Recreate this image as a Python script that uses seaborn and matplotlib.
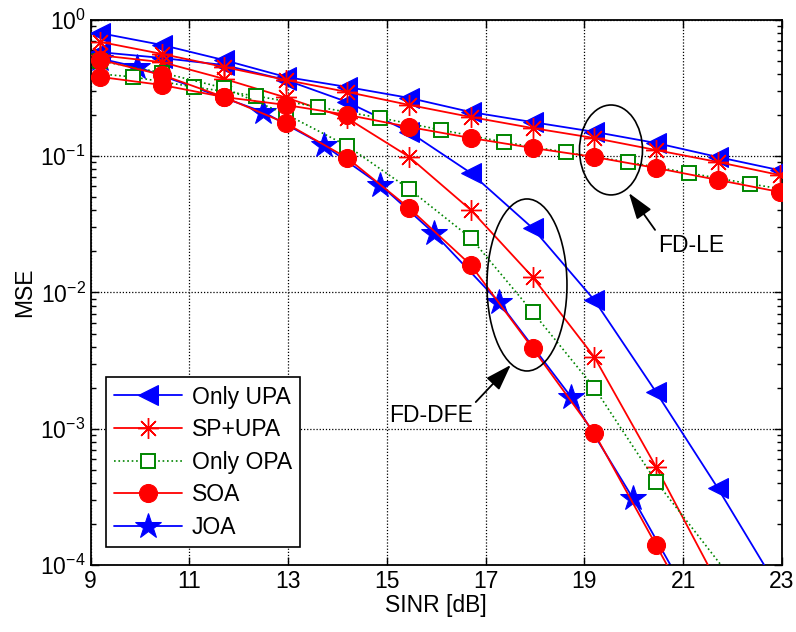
import numpy as np
import pandas as pd
import matplotlib
matplotlib.use('Agg')
import matplotlib.pyplot as plt
import seaborn as sns
from matplotlib.patches import Ellipse

# SINR grid of the markers [dB]
snr = [9.2, 10.45, 11.7, 12.95, 14.2, 15.45, 16.7, 17.95, 19.2, 20.45, 21.7, 22.95]

# FD-LE curves
upa_le = [0.80, 0.655, 0.508, 0.382, 0.322, 0.268, 0.211, 0.178, 0.151, 0.125, 0.0987, 0.079]
sp_le = [0.69, 0.563, 0.452, 0.363, 0.296, 0.238, 0.194, 0.161, 0.136, 0.111, 0.0907, 0.0728]
soa_le = [0.382, 0.333, 0.272, 0.238, 0.201, 0.164, 0.136, 0.115, 0.0987, 0.082, 0.067, 0.0547]
snr_opa_le = [8.6, 9.86, 11.1, 12.35, 13.6, 14.87, 16.1, 17.37, 18.62, 19.88, 21.12, 22.36, 23.6]
opa_le = [0.42, 0.382, 0.322, 0.277, 0.23, 0.191, 0.156, 0.127, 0.107, 0.0907, 0.0753, 0.0626, 0.053]

# FD-DFE curves (last value of each runs below the axis)
upa_dfe = [0.58, 0.526, 0.467, 0.363, 0.25, 0.151, 0.0753, 0.0297, 0.0088, 0.00186, 0.000367, 6.5e-5]
sp_dfe = [0.55, 0.49, 0.37, 0.27, 0.19, 0.099, 0.0403, 0.013, 0.00336, 0.000525, 7.3e-5]
snr_opa_dfe = [9.2, 10.45, 11.7, 12.95, 14.2, 15.45, 16.7, 17.95, 19.2, 20.45, 22.95]
opa_dfe = [0.5, 0.41, 0.317, 0.204, 0.119, 0.0575, 0.0251, 0.0072, 0.002, 0.00041, 2.8e-5]
soa_dfe = [0.509, 0.395, 0.272, 0.175, 0.097, 0.0417, 0.0159, 0.0039, 0.00093, 0.00014, 2.1e-5]
snr_joa = [9.2, 9.95, 12.5, 13.72, 14.87, 15.95, 17.27, 18.73, 19.98, 21.25]
joa = [0.52, 0.452, 0.211, 0.121, 0.0615, 0.0273, 0.0085, 0.00171, 0.00031, 4.7e-5]

labels = ['Only UPA', 'SP+UPA', 'Only OPA', 'SOA', 'JOA']

sns.set_style('ticks')
plt.rcParams['font.family'] = ['Liberation Sans', 'DejaVu Sans']
plt.rcParams['mathtext.default'] = 'regular'
plt.rcParams['text.color'] = 'k'
plt.rcParams['axes.labelcolor'] = 'k'
plt.rcParams['xtick.color'] = 'k'
plt.rcParams['ytick.color'] = 'k'
fs = 16.5

fig = plt.figure(figsize=(7.96, 6.32), dpi=100)
ax = fig.add_axes([0.1137, 0.106, 0.8687, 0.8624])

blue = (0, 0, 1)
red = (1, 0, 0)
green = (0, 0.52, 0)

upa_kw = dict(color=blue, marker='<', markersize=14, markeredgecolor=blue, linewidth=1.3)
sp_kw = dict(color=red, marker=(8, 2, 0), markersize=15, markeredgecolor=red,
             markeredgewidth=1.0, linewidth=1.3)
opa_kw = dict(color=green, marker='s', markersize=10, markerfacecolor='white',
              markeredgecolor=green, markeredgewidth=1.4, linestyle=':', linewidth=1.2)
soa_kw = dict(color=red, marker='o', markersize=13, markeredgecolor=red, linewidth=1.3)
joa_kw = dict(color=blue, marker='*', markersize=19, markeredgecolor=blue, linewidth=1.3)

sns.lineplot(x=snr_joa, y=joa, ax=ax, label=labels[4], zorder=2, **joa_kw)
sns.lineplot(x=snr, y=upa_le, ax=ax, label=labels[0], zorder=3, **upa_kw)
sns.lineplot(x=snr, y=upa_dfe, ax=ax, zorder=3, **upa_kw)
sns.lineplot(x=snr, y=sp_le, ax=ax, label=labels[1], zorder=4, **sp_kw)
sns.lineplot(x=snr[:11], y=sp_dfe, ax=ax, zorder=4, **sp_kw)
sns.lineplot(x=snr_opa_le, y=opa_le, ax=ax, label=labels[2], zorder=5, **opa_kw)
sns.lineplot(x=snr_opa_dfe, y=opa_dfe, ax=ax, zorder=5, **opa_kw)
sns.lineplot(x=snr, y=soa_le, ax=ax, label=labels[3], zorder=6, **soa_kw)
sns.lineplot(x=snr[:11], y=soa_dfe, ax=ax, zorder=6, **soa_kw)

ax.set_yscale('log')
ax.set_xlim(9, 23)
ax.set_ylim(1e-4, 1)
ax.set_xticks(np.arange(9, 24, 2))
ax.set_xlabel('SINR [dB]', fontsize=fs, labelpad=1)
ax.set_ylabel('MSE', fontsize=fs, labelpad=3)

ax.grid(True, which='major', color='k', linestyle=(0, (1, 1.5)), linewidth=0.9)
ax.tick_params(which='both', direction='in', top=True, right=True, labelsize=fs,
               colors='k')
ax.tick_params(which='major', length=6, width=1)
ax.tick_params(which='minor', length=3.5, width=1)
for s in ax.spines.values():
    s.set_color('k')
    s.set_linewidth(1.3)

# ellipses around the two receiver families
ax.add_patch(Ellipse((0.7527, 0.7615), 0.0911, 0.165, transform=ax.transAxes,
                     fill=False, edgecolor='k', linewidth=1.2, zorder=7))
ax.add_patch(Ellipse((0.6312, 0.5138), 0.1157, 0.3156, transform=ax.transAxes,
                     fill=False, edgecolor='k', linewidth=1.2, zorder=7))

arr = dict(arrowstyle='-|>,head_length=0.9,head_width=0.3', color='k', lw=1.3,
           mutation_scale=18, shrinkA=0, shrinkB=0)
ax.annotate('', xy=(19.9, 0.0537), xytext=(20.43, 0.0288), arrowprops=arr, zorder=8)
ax.text(20.5, 0.0223, 'FD-LE', fontsize=fs, ha='left', va='center')
ax.annotate('', xy=(17.51, 0.00294), xytext=(16.8, 0.00157), arrowprops=arr, zorder=8)
ax.text(16.75, 0.00126, 'FD-DFE', fontsize=fs, ha='right', va='center')

h, l = ax.get_legend_handles_labels()
order = [l.index(name) for name in labels]
leg = ax.legend([h[i] for i in order], [l[i] for i in order], loc='lower left',
                bbox_to_anchor=(0.022, 0.033), borderaxespad=0, fancybox=False,
                edgecolor='k', framealpha=1, fontsize=fs, handlelength=3.0,
                labelspacing=0.42, borderpad=0.35, handletextpad=0.4)
leg.get_frame().set_linewidth(1.2)
leg.set_zorder(10)

fig.savefig('out.png', dpi=100)
